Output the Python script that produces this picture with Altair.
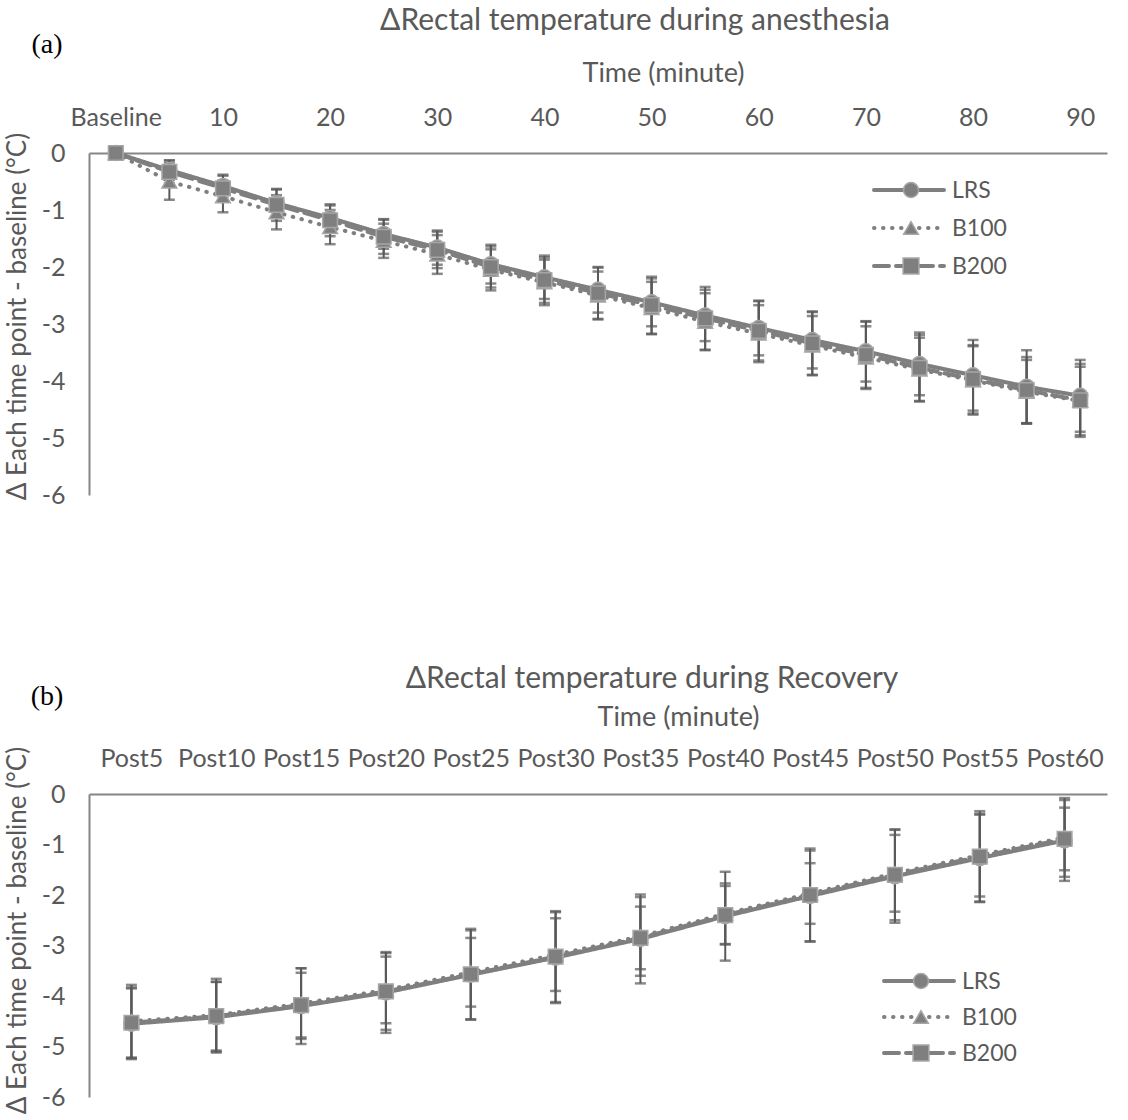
import altair as alt
import pandas as pd

SERIES = ["LRS", "B100", "B200"]

# ---------- Panel (a): during anesthesia ----------
TIMES_A = ["Baseline", "5", "10", "15", "20", "25", "30", "35", "40", "45",
           "50", "55", "60", "65", "70", "75", "80", "85", "90"]
LABELS_A = ["Baseline", "10", "20", "30", "40", "50", "60", "70", "80", "90"]
LRS_A = [0, -0.30, -0.58, -0.88, -1.14, -1.42, -1.66, -1.95, -2.18, -2.40,
         -2.62, -2.85, -3.07, -3.28, -3.48, -3.70, -3.90, -4.10, -4.26]
LRS_A_SD = [0, 0.17, 0.20, 0.24, 0.22, 0.26, 0.30, 0.34, 0.38, 0.40,
            0.42, 0.45, 0.48, 0.50, 0.53, 0.55, 0.62, 0.64, 0.63]
B100_A = [0, -0.50, -0.76, -1.04, -1.30, -1.54, -1.78, -2.05, -2.27, -2.50,
          -2.72, -2.96, -3.17, -3.38, -3.59, -3.80, -3.99, -4.19, -4.35]
B100_A_SD = [0, 0.32, 0.28, 0.30, 0.30, 0.30, 0.34, 0.36, 0.40, 0.42,
             0.46, 0.50, 0.50, 0.52, 0.55, 0.56, 0.60, 0.56, 0.60]
B200_A = [0, -0.33, -0.62, -0.91, -1.18, -1.47, -1.70, -2.00, -2.23, -2.46,
          -2.67, -2.90, -3.12, -3.34, -3.54, -3.77, -3.97, -4.16, -4.34]
B200_A_SD = [0, 0.20, 0.22, 0.28, 0.28, 0.30, 0.32, 0.36, 0.40, 0.45,
             0.50, 0.55, 0.52, 0.55, 0.58, 0.58, 0.60, 0.58, 0.64]

# ---------- Panel (b): during recovery ----------
TIMES_B = ["Post5", "Post10", "Post15", "Post20", "Post25", "Post30",
           "Post35", "Post40", "Post45", "Post50", "Post55", "Post60"]
LABELS_B = TIMES_B
LRS_B = [-4.55, -4.42, -4.20, -3.93, -3.58, -3.24, -2.87, -2.42, -2.02, -1.63, -1.27, -0.92]
LRS_B_SD = [0.70, 0.70, 0.75, 0.80, 0.88, 0.90, 0.88, 0.88, 0.90, 0.92, 0.86, 0.80]
B100_B = [-4.50, -4.38, -4.15, -3.88, -3.53, -3.18, -2.82, -2.37, -1.97, -1.57, -1.21, -0.86]
B100_B_SD = [0.72, 0.72, 0.70, 0.66, 0.68, 0.72, 0.78, 0.60, 0.60, 0.76, 0.82, 0.78]
B200_B = [-4.53, -4.40, -4.18, -3.91, -3.57, -3.22, -2.85, -2.40, -2.00, -1.60, -1.24, -0.89]
B200_B_SD = [0.70, 0.68, 0.64, 0.76, 0.90, 0.90, 0.62, 0.58, 0.92, 0.90, 0.90, 0.62]

FONT = "Lato"
TXT = "#595959"
LINE = "#7f7f7f"
EDGE = "#a6a6a6"
ERR = "#595959"
AXIS = "#868686"

DASHES = [[1, 0], [0.5, 8.5], [15, 7]]
SHAPES = ["circle", "triangle-up", "square"]
SIZES = [225, 215, 250]


def long_df(times, means, sds):
    rows = []
    for s, m, sd in zip(SERIES, means, sds):
        for t, v, e in zip(times, m, sd):
            rows.append({"time": t, "series": s, "mean": v, "sd": e,
                         "lo": v - e, "hi": v + e})
    return pd.DataFrame(rows)


def panel(df, times, labels, height, title, title_dx, title_offset,
          axis_title_x, axis_title_pad, ytitle_y, letter, letter_y,
          legend_y0, legend_dy, legend_x0):
    shown = "[" + ",".join("'" + l + "'" for l in labels) + "]"
    xenc = alt.X(
        "time:N", sort=times,
        scale=alt.Scale(type="point", domain=times, padding=0.5),
        axis=alt.Axis(
            orient="top", title="Time (minute)", labelAngle=0, ticks=False,
            tickSize=0, grid=False, domain=True, domainColor=AXIS, domainWidth=2,
            labelExpr="indexof(" + shown + ", datum.value) >= 0 ? datum.value : ''",
            labelFont=FONT, labelFontSize=25, labelColor=TXT, labelPadding=23,
            labelOverlap=False,
            titleFont=FONT, titleFontSize=27, titleColor=TXT, titleFontWeight="normal",
            titlePadding=axis_title_pad, titleX=axis_title_x, titleAlign="center",
        ),
    )
    yaxis = alt.Axis(
        values=[0, -1, -2, -3, -4, -5, -6], grid=False, ticks=False, tickSize=0,
        domain=True, domainColor=AXIS, domainWidth=2,
        labelExpr="datum.value < 0 ? '-' + abs(datum.value) : '' + datum.value",
        labelFont=FONT, labelFontSize=25, labelColor=TXT, labelPadding=24,
        title="Δ Each time point - baseline (°C)", titleFont=FONT, titleFontSize=26,
        titleColor=TXT, titleFontWeight="normal", titlePadding=11, titleY=ytitle_y,
    )
    yscale = alt.Scale(domain=[-6, 0], nice=False, zero=False)

    base = alt.Chart(df)
    lines = base.mark_line(strokeWidth=4, color=LINE, strokeCap="round",
                           strokeJoin="round").encode(
        x=xenc,
        y=alt.Y("mean:Q", scale=yscale, axis=yaxis),
        strokeDash=alt.StrokeDash("series:N", scale=alt.Scale(domain=SERIES, range=DASHES),
                                  legend=None),
        detail="series:N",
    )
    err = base.transform_filter("datum.sd > 0")
    rules = err.mark_rule(color=ERR, strokeWidth=2).encode(
        x=alt.X("time:N", sort=times), y=alt.Y("lo:Q"), y2="hi:Q")
    caps_lo = err.mark_tick(color=ERR, thickness=2.5, size=11, orient="horizontal").encode(
        x=alt.X("time:N", sort=times), y=alt.Y("lo:Q"))
    caps_hi = err.mark_tick(color=ERR, thickness=2.5, size=11, orient="horizontal").encode(
        x=alt.X("time:N", sort=times), y=alt.Y("hi:Q"))
    pts = base.mark_point(filled=True, color=LINE, stroke=EDGE, strokeWidth=1.5,
                          opacity=1).encode(
        x=alt.X("time:N", sort=times), y=alt.Y("mean:Q"),
        shape=alt.Shape("series:N", scale=alt.Scale(domain=SERIES, range=SHAPES), legend=None),
        size=alt.Size("series:N", scale=alt.Scale(domain=SERIES, range=SIZES), legend=None),
    )

    layers = [lines, rules, caps_lo, caps_hi, pts]

    # manual legend (line sample with marker + label)
    for i, s in enumerate(SERIES):
        yy = legend_y0 + i * legend_dy
        ldf = pd.DataFrame({"series": [s]})
        lb = alt.Chart(ldf)
        layers.append(lb.mark_rule(color=LINE, strokeWidth=4, strokeCap="round",
                                   strokeDash=DASHES[i]).encode(
            x=alt.value(legend_x0), x2=alt.value(legend_x0 + 70), y=alt.value(yy)))
        layers.append(lb.mark_point(filled=True, color=LINE, stroke=EDGE, strokeWidth=1.5,
                                    opacity=1, shape=SHAPES[i], size=SIZES[i]).encode(
            x=alt.value(legend_x0 + 37), y=alt.value(yy)))
        layers.append(lb.mark_text(align="left", baseline="middle", font=FONT,
                                   fontSize=23, color=TXT).encode(
            x=alt.value(legend_x0 + 78), y=alt.value(yy + 1), text="series:N"))

    ldata = pd.DataFrame({"letter": [letter]})
    layers.append(alt.Chart(ldata).mark_text(
        font="Liberation Serif", fontSize=28, color="#000000", align="center",
        baseline="middle").encode(x=alt.value(-42), y=alt.value(letter_y), text="letter:N"))

    return alt.layer(*layers).properties(
        width=1018, height=height,
        title=alt.TitleParams(title, font=FONT, fontSize=30, color=TXT,
                              fontWeight="normal", anchor="middle", dx=title_dx,
                              offset=title_offset),
    )


df_a = long_df(TIMES_A, [LRS_A, B100_A, B200_A], [LRS_A_SD, B100_A_SD, B200_A_SD])
df_b = long_df(TIMES_B, [LRS_B, B100_B, B200_B], [LRS_B_SD, B100_B_SD, B200_B_SD])

pa = panel(df_a, TIMES_A, LABELS_A, 342, "ΔRectal temperature during anesthesia",
           37, -5, 574, 18, 163, "(a)", -108, 37, 38, 785)
pb = panel(df_b, TIMES_B, LABELS_B, 303, "ΔRectal temperature during Recovery",
           54, -11, 589, 15, 136, "(b)", -97, 187, 36, 795)

chart = alt.vconcat(pa, pb, spacing=299, bounds="flush").configure_view(
    stroke=None).properties(padding={"left": 4, "top": 6, "right": 20, "bottom": 4},
                            background="white")

chart.save("out.html", embed_options={"renderer": "svg", "actions": False})
